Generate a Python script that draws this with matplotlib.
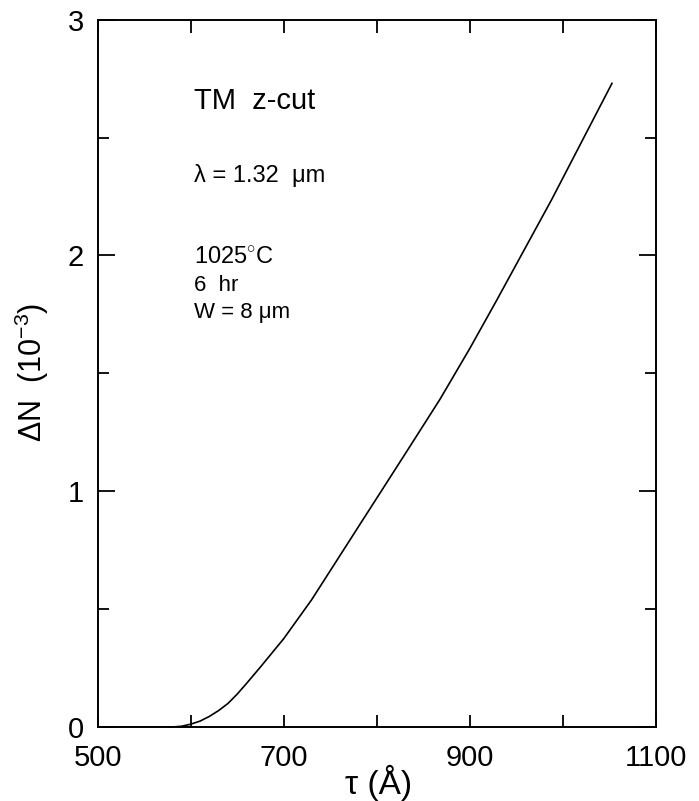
import matplotlib
matplotlib.use('Agg')
from matplotlib import pyplot as plt
from matplotlib.ticker import MultipleLocator, FixedFormatter, FixedLocator

# values
tau = [500, 580, 590, 600, 610, 620, 630, 640, 650, 660, 675, 700, 730,
       782, 830, 868, 900, 929, 988, 1053]
dN = [0, 0, 0.003, 0.012, 0.025, 0.045, 0.07, 0.10, 0.14, 0.185, 0.255,
      0.375, 0.54, 0.86, 1.155, 1.39, 1.605, 1.81, 2.236, 2.73]

x_ticks = [500, 600, 700, 800, 900, 1000, 1100]
x_labels = ['500', '', '700', '', '900', '', '1100']
y_ticks = [0, 1, 2, 3]
y_labels = ['0', '1', '2', '3']

plt.rcParams['font.family'] = ['Liberation Sans', 'DejaVu Sans']
plt.rcParams['mathtext.fontset'] = 'custom'
plt.rcParams['mathtext.rm'] = 'Liberation Sans'
plt.rcParams['mathtext.it'] = 'Liberation Sans'

fig = plt.figure(figsize=(6.99, 8.01), dpi=100)
ax = fig.add_axes([0.140, 0.0924, 0.798, 0.883])

ax.plot(tau, dN, color='black', lw=1.2)

ax.set_xlim(500, 1100)
ax.set_ylim(0, 3)
ax.xaxis.set_major_locator(FixedLocator(x_ticks))
ax.xaxis.set_major_formatter(FixedFormatter(x_labels))
ax.yaxis.set_major_locator(FixedLocator(y_ticks))
ax.yaxis.set_major_formatter(FixedFormatter(y_labels))
ax.yaxis.set_minor_locator(MultipleLocator(0.5))

ax.tick_params(axis='both', which='both', direction='in', top=True, right=True,
               width=1.3, labelsize=21, colors='black')
ax.tick_params(axis='x', which='major', length=9, pad=12)
ax.tick_params(axis='y', which='major', length=12, pad=10)
ax.tick_params(axis='y', which='minor', length=8)
for s in ax.spines.values():
    s.set_linewidth(1.4)

ax.set_xlabel('τ (Å)', fontsize=24)
ax.xaxis.set_label_coords(0.504, -0.054)
ax.set_ylabel(r'ΔN  (10$^{-3}$)', fontsize=22)
ax.yaxis.set_label_coords(-0.084, 0.502)

ax.text(603, 2.62, 'TM  z-cut', fontsize=21)
ax.text(603, 2.31, 'λ = 1.32  μm', fontsize=17)
ax.text(603, 1.97, '1025$^{\\circ}$C', fontsize=17)
ax.text(603, 1.85, '6  hr', fontsize=16)
ax.text(603, 1.735, 'W = 8 μm', fontsize=16)

plt.savefig('out.png', dpi=100)
plt.close('all')
